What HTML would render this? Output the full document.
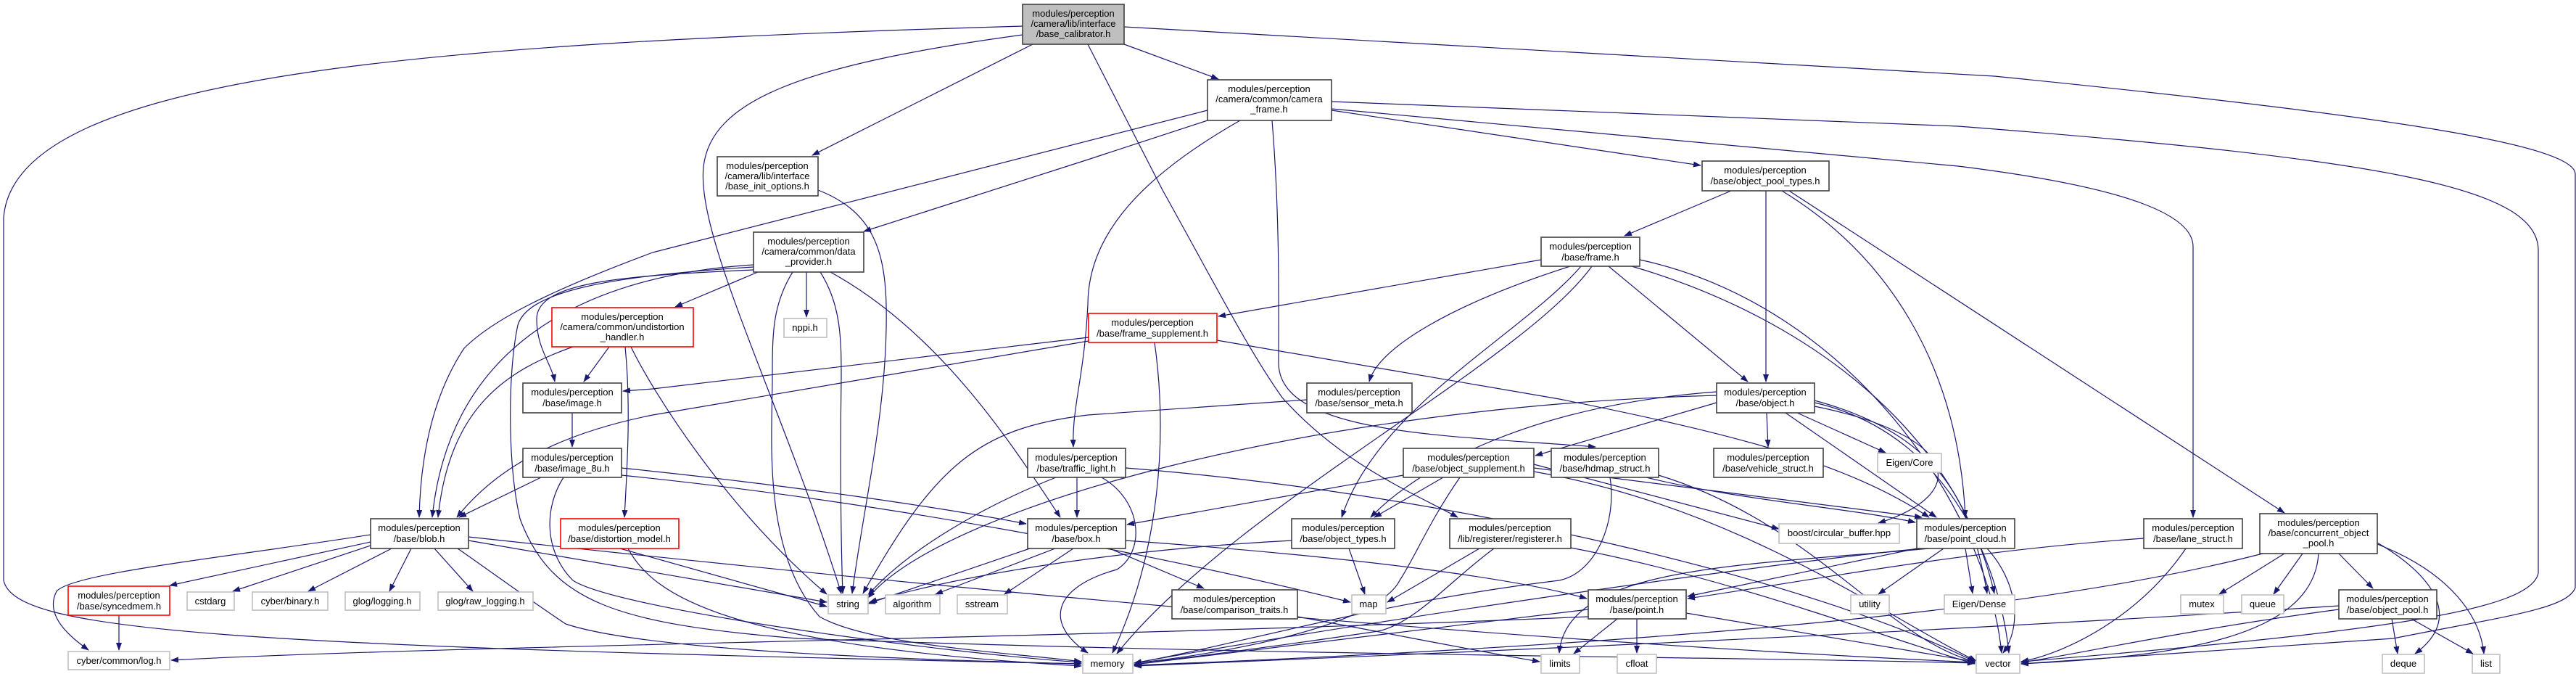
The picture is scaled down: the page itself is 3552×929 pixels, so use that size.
<!DOCTYPE html>
<html><head><meta charset="utf-8"><style>
html,body{margin:0;padding:0;background:#fff}
svg{display:block}
text{font-family:"Liberation Sans",sans-serif;font-size:13px;fill:#000}
.n{fill:#fff;stroke:#404040;stroke-width:1.6}
.g{fill:#fff;stroke:#bfbfbf;stroke-width:1.6}
.r{fill:#fff;stroke:#ff0000;stroke-width:1.6}
.root{fill:#bfbfbf;stroke:#404040;stroke-width:1.6}
.e path{fill:none;stroke:#191970;stroke-width:1.2}
</style></head><body>
<svg width="3552" height="929" viewBox="0 0 3552 929" xmlns="http://www.w3.org/2000/svg">
<defs><marker id="a" markerWidth="11" markerHeight="8" refX="10" refY="4" orient="auto" markerUnits="userSpaceOnUse"><path d="M0,0 L11,4 L0,8z" fill="#191970"/></marker></defs>
<g class="e" marker-end="url(#a)">
<path marker-end="url(#a)" d="M1410,36 C600,60 20,100 5,300 L5,800 C20,870 300,890 1491,915"/>
<path marker-end="url(#a)" d="M1410,48 C1100,90 980,140 970,230 C960,330 1080,560 1160,818"/>
<path marker-end="url(#a)" d="M1424,61 L1120,214"/>
<path marker-end="url(#a)" d="M1550,61 L1680,109"/>
<path marker-end="url(#a)" d="M1500,61 L1603,262 C1680,400 1720,480 1768,548 C1850,640 1950,680 2010,713"/>
<path marker-end="url(#a)" d="M1550,37 L2750,105 C3300,160 3551,200 3551,240 L3551,810 C3540,840 3450,850 3300,880 C3000,900 2850,910 2787,915"/>
<path marker-end="url(#a)" d="M1836,152 L2345,228"/>
<path marker-end="url(#a)" d="M1836,150 L2700,229 C2950,260 3024,300 3024,340 L3024,713"/>
<path marker-end="url(#a)" d="M1836,140 L2700,174 C3300,220 3500,260 3500,345 L3500,790 C3490,840 3300,870 2787,912"/>
<path marker-end="url(#a)" d="M1665,152 L900,348 C760,400 680,440 640,480 C600,540 580,620 578,713"/>
<path marker-end="url(#a)" d="M1665,166 L1500,220 L1191,319"/>
<path marker-end="url(#a)" d="M1710,166 C1580,240 1500,320 1500,420 C1495,520 1478,560 1480,616"/>
<path marker-end="url(#a)" d="M1754,166 C1765,300 1763,420 1763,500 C1763,600 2000,600 2200,616"/>
<path marker-end="url(#a)" d="M1128,262 C1200,290 1220,340 1222,420 C1225,560 1190,700 1175,818"/>
<path marker-end="url(#a)" d="M1045,375 L931,423"/>
<path marker-end="url(#a)" d="M1112,375 L1112,437"/>
<path marker-end="url(#a)" d="M1131,375 C1160,420 1160,470 1160,520 C1158,650 1160,760 1162,818"/>
<path marker-end="url(#a)" d="M1145,375 C1300,460 1400,620 1462,713"/>
<path marker-end="url(#a)" d="M1093,375 C1065,420 1065,460 1065,520 C1065,600 1050,760 1130,850 C1200,890 1400,900 1491,912"/>
<path marker-end="url(#a)" d="M1039,368 C850,380 720,400 713,453 C700,520 700,640 717,715 C760,830 850,860 1100,880 C1800,905 2400,905 2723,914"/>
<path marker-end="url(#a)" d="M1039,372 C850,380 740,390 740,440 C740,480 760,500 765,526"/>
<path marker-end="url(#a)" d="M1039,365 C800,380 620,480 596,713"/>
<path marker-end="url(#a)" d="M840,478 L805,526"/>
<path marker-end="url(#a)" d="M790,478 C700,510 620,560 604,713"/>
<path marker-end="url(#a)" d="M862,478 C870,560 865,640 861,713"/>
<path marker-end="url(#a)" d="M870,478 C900,540 1000,700 1140,819"/>
<path marker-end="url(#a)" d="M789,569 L789,616"/>
<path marker-end="url(#a)" d="M1501,465 L900,536 L859,539"/>
<path marker-end="url(#a)" d="M1501,470 L900,572 C760,600 680,650 630,713"/>
<path marker-end="url(#a)" d="M1592,472 C1610,600 1600,760 1534,900"/>
<path marker-end="url(#a)" d="M1678,469 L2150,550 C2400,600 2550,640 2660,713"/>
<path marker-end="url(#a)" d="M746,658 L633,713"/>
<path marker-end="url(#a)" d="M857,645 C1100,670 1300,700 1415,722"/>
<path marker-end="url(#a)" d="M857,655 C1300,700 1700,790 1862,830"/>
<path marker-end="url(#a)" d="M777,658 C750,700 750,760 790,800 C850,840 1300,900 1491,913"/>
<path marker-end="url(#a)" d="M511,747 L234,807"/>
<path marker-end="url(#a)" d="M511,752 L321,815"/>
<path marker-end="url(#a)" d="M540,756 L425,815"/>
<path marker-end="url(#a)" d="M567,756 L537,815"/>
<path marker-end="url(#a)" d="M599,756 L652,815"/>
<path marker-end="url(#a)" d="M511,737 C300,770 100,790 78,815 C60,850 100,880 122,896"/>
<path marker-end="url(#a)" d="M646,745 L1140,830"/>
<path marker-end="url(#a)" d="M646,740 C1200,800 2000,880 2723,913"/>
<path marker-end="url(#a)" d="M631,756 C680,790 720,820 780,860 C900,900 1300,910 1491,915"/>
<path marker-end="url(#a)" d="M164,848 L164,896"/>
<path marker-end="url(#a)" d="M855,756 L1140,836"/>
<path marker-end="url(#a)" d="M866,756 C900,820 1000,890 1491,918"/>
<path marker-end="url(#a)" d="M1485,658 L1485,713"/>
<path marker-end="url(#a)" d="M1456,658 C1350,700 1250,760 1197,820"/>
<path marker-end="url(#a)" d="M1519,658 C1575,690 1580,760 1540,785 C1450,810 1440,860 1500,900"/>
<path marker-end="url(#a)" d="M1552,645 C2000,680 2500,800 2723,912"/>
<path marker-end="url(#a)" d="M1420,756 L1197,832"/>
<path marker-end="url(#a)" d="M1455,756 L1290,819"/>
<path marker-end="url(#a)" d="M1480,756 L1385,819"/>
<path marker-end="url(#a)" d="M1530,756 L1660,811"/>
<path marker-end="url(#a)" d="M1552,745 C1900,770 2100,800 2188,825"/>
<path marker-end="url(#a)" d="M1802,551 L1500,572 C1350,590 1290,640 1190,818"/>
<path marker-end="url(#a)" d="M1935,655 L1554,723"/>
<path marker-end="url(#a)" d="M1990,658 L1895,713"/>
<path marker-end="url(#a)" d="M2013,658 C1970,720 1950,770 1930,800 C1900,860 1700,900 1564,914"/>
<path marker-end="url(#a)" d="M2115,650 C2400,700 2600,850 2725,911"/>
<path marker-end="url(#a)" d="M2115,645 L2650,713"/>
<path marker-end="url(#a)" d="M2115,640 L2453,729"/>
<path marker-end="url(#a)" d="M1860,756 L1882,819"/>
<path marker-end="url(#a)" d="M1781,745 C1500,760 1300,800 1199,830"/>
<path marker-end="url(#a)" d="M2040,756 L1913,830"/>
<path marker-end="url(#a)" d="M2060,756 C2000,800 1950,860 1900,870 C1700,900 1600,910 1564,916"/>
<path marker-end="url(#a)" d="M2166,755 C2400,800 2600,880 2723,915"/>
<path marker-end="url(#a)" d="M1789,850 C1900,870 2050,900 2123,912"/>
<path marker-end="url(#a)" d="M2387,263 L2240,325"/>
<path marker-end="url(#a)" d="M2435,263 L2435,526"/>
<path marker-end="url(#a)" d="M2457,263 C2600,350 2700,500 2710,713"/>
<path marker-end="url(#a)" d="M2467,263 L3150,707"/>
<path marker-end="url(#a)" d="M2125,358 L1680,436"/>
<path marker-end="url(#a)" d="M2165,367 C2000,420 1900,480 1888,526"/>
<path marker-end="url(#a)" d="M2180,367 C2100,460 1900,560 1850,713"/>
<path marker-end="url(#a)" d="M2195,367 C2100,500 1700,700 1540,901"/>
<path marker-end="url(#a)" d="M2218,367 L2410,526"/>
<path marker-end="url(#a)" d="M2261,358 C2550,420 2740,700 2760,900"/>
<path marker-end="url(#a)" d="M2250,367 C2500,440 2700,600 2750,818"/>
<path marker-end="url(#a)" d="M2367,555 L2117,628"/>
<path marker-end="url(#a)" d="M2436,569 L2438,616"/>
<path marker-end="url(#a)" d="M2478,569 L2600,624"/>
<path marker-end="url(#a)" d="M2462,569 L2670,713"/>
<path marker-end="url(#a)" d="M2502,560 C2700,600 2720,680 2590,721"/>
<path marker-end="url(#a)" d="M2367,540 C2100,560 1950,650 1890,713"/>
<path marker-end="url(#a)" d="M2367,545 C1800,560 1300,700 1197,824"/>
<path marker-end="url(#a)" d="M2502,555 C2700,600 2760,800 2770,900"/>
<path marker-end="url(#a)" d="M2502,552 C2680,600 2720,700 2740,818"/>
<path marker-end="url(#a)" d="M2270,658 C2400,690 2550,700 2641,720"/>
<path marker-end="url(#a)" d="M2220,658 C2230,720 2200,790 2150,800 C1900,830 1700,890 1564,914"/>
<path marker-end="url(#a)" d="M2287,655 C2500,720 2600,880 2723,912"/>
<path marker-end="url(#a)" d="M2643,756 L2327,822"/>
<path marker-end="url(#a)" d="M2680,756 L2590,819"/>
<path marker-end="url(#a)" d="M2710,756 L2720,818"/>
<path marker-end="url(#a)" d="M2740,756 C2780,800 2790,860 2762,900"/>
<path marker-end="url(#a)" d="M2650,756 C2400,780 1800,870 1564,914"/>
<path marker-end="url(#a)" d="M2660,756 C2400,780 2160,780 2150,900"/>
<path marker-end="url(#a)" d="M2230,853 L2170,901"/>
<path marker-end="url(#a)" d="M2257,853 L2257,900"/>
<path marker-end="url(#a)" d="M2325,845 L2723,912"/>
<path marker-end="url(#a)" d="M2190,840 L1564,916"/>
<path marker-end="url(#a)" d="M2190,850 C1500,880 600,890 236,910"/>
<path marker-end="url(#a)" d="M2956,742 C2700,760 2500,800 2327,825"/>
<path marker-end="url(#a)" d="M3014,756 C2950,850 2850,900 2787,912"/>
<path marker-end="url(#a)" d="M3150,763 L3060,819"/>
<path marker-end="url(#a)" d="M3175,763 L3135,819"/>
<path marker-end="url(#a)" d="M3225,763 L3272,811"/>
<path marker-end="url(#a)" d="M3278,748 C3350,790 3400,850 3330,901"/>
<path marker-end="url(#a)" d="M3278,750 C3380,790 3420,850 3425,901"/>
<path marker-end="url(#a)" d="M3197,763 C3190,880 3000,905 2787,915"/>
<path marker-end="url(#a)" d="M3120,763 C2900,820 2500,880 1564,917"/>
<path marker-end="url(#a)" d="M3298,853 L3306,901"/>
<path marker-end="url(#a)" d="M3325,853 L3410,901"/>
<path marker-end="url(#a)" d="M3225,840 C3000,870 2850,905 2787,913"/>
<path marker-end="url(#a)" d="M3225,835 C2700,870 2000,900 1564,918"/>
</g>
<g text-anchor="middle">
<rect class="root" x="1410" y="6" width="140" height="55"/><text x="1480" y="23">modules/perception</text><text x="1480" y="37">/camera/lib/interface</text><text x="1480" y="51">/base_calibrator.h</text>
<rect class="n" x="1665" y="110" width="171" height="56"/><text x="1750" y="127">modules/perception</text><text x="1750" y="141">/camera/common/camera</text><text x="1750" y="155">_frame.h</text>
<rect class="n" x="989" y="216" width="139" height="54"/><text x="1058" y="233">modules/perception</text><text x="1058" y="247">/camera/lib/interface</text><text x="1058" y="261">/base_init_options.h</text>
<rect class="n" x="1039" y="320" width="152" height="55"/><text x="1115" y="337">modules/perception</text><text x="1115" y="351">/camera/common/data</text><text x="1115" y="365">_provider.h</text>
<rect class="r" x="761" y="424" width="195" height="54"/><text x="858" y="441">modules/perception</text><text x="858" y="455">/camera/common/undistortion</text><text x="858" y="469">_handler.h</text>
<rect class="n" x="721" y="528" width="136" height="41"/><text x="789" y="545">modules/perception</text><text x="789" y="560">/base/image.h</text>
<rect class="n" x="721" y="618" width="136" height="40"/><text x="789" y="635">modules/perception</text><text x="789" y="650">/base/image_8u.h</text>
<rect class="n" x="511" y="715" width="135" height="41"/><text x="578" y="732">modules/perception</text><text x="578" y="747">/base/blob.h</text>
<rect class="r" x="773" y="715" width="163" height="41"/><text x="854" y="732">modules/perception</text><text x="854" y="747">/base/distortion_model.h</text>
<rect class="r" x="94" y="808" width="140" height="40"/><text x="164" y="825">modules/perception</text><text x="164" y="840">/base/syncedmem.h</text>
<rect class="g" x="258" y="816" width="65" height="25"/><text x="290" y="833">cstdarg</text>
<rect class="g" x="348" y="816" width="104" height="25"/><text x="400" y="833">cyber/binary.h</text>
<rect class="g" x="476" y="816" width="103" height="25"/><text x="527" y="833">glog/logging.h</text>
<rect class="g" x="604" y="816" width="131" height="25"/><text x="669" y="833">glog/raw_logging.h</text>
<rect class="g" x="94" y="898" width="140" height="25"/><text x="164" y="915">cyber/common/log.h</text>
<rect class="g" x="1081" y="439" width="59" height="26"/><text x="1110" y="456">nppi.h</text>
<rect class="g" x="1142" y="820" width="55" height="26"/><text x="1169" y="837">string</text>
<rect class="g" x="1221" y="820" width="75" height="26"/><text x="1258" y="837">algorithm</text>
<rect class="g" x="1320" y="820" width="69" height="26"/><text x="1354" y="837">sstream</text>
<rect class="n" x="1417" y="618" width="135" height="40"/><text x="1484" y="635">modules/perception</text><text x="1484" y="650">/base/traffic_light.h</text>
<rect class="n" x="1417" y="715" width="135" height="41"/><text x="1484" y="732">modules/perception</text><text x="1484" y="747">/base/box.h</text>
<rect class="r" x="1501" y="432" width="177" height="40"/><text x="1589" y="449">modules/perception</text><text x="1589" y="464">/base/frame_supplement.h</text>
<rect class="n" x="1802" y="528" width="145" height="41"/><text x="1874" y="545">modules/perception</text><text x="1874" y="560">/base/sensor_meta.h</text>
<rect class="n" x="1935" y="618" width="180" height="40"/><text x="2025" y="635">modules/perception</text><text x="2025" y="650">/base/object_supplement.h</text>
<rect class="n" x="1781" y="715" width="142" height="41"/><text x="1852" y="732">modules/perception</text><text x="1852" y="747">/base/object_types.h</text>
<rect class="n" x="1999" y="715" width="167" height="41"/><text x="2082" y="732">modules/perception</text><text x="2082" y="747">/lib/registerer/registerer.h</text>
<rect class="n" x="1616" y="813" width="173" height="40"/><text x="1702" y="830">modules/perception</text><text x="1702" y="845">/base/comparison_traits.h</text>
<rect class="g" x="1864" y="820" width="47" height="26"/><text x="1887" y="837">map</text>
<rect class="g" x="1493" y="902" width="69" height="26"/><text x="1527" y="919">memory</text>
<rect class="n" x="2347" y="222" width="175" height="41"/><text x="2434" y="239">modules/perception</text><text x="2434" y="254">/base/object_pool_types.h</text>
<rect class="n" x="2125" y="327" width="136" height="40"/><text x="2193" y="344">modules/perception</text><text x="2193" y="359">/base/frame.h</text>
<rect class="n" x="2367" y="528" width="135" height="41"/><text x="2434" y="545">modules/perception</text><text x="2434" y="560">/base/object.h</text>
<rect class="n" x="2139" y="618" width="148" height="40"/><text x="2213" y="635">modules/perception</text><text x="2213" y="650">/base/hdmap_struct.h</text>
<rect class="n" x="2363" y="618" width="151" height="40"/><text x="2438" y="635">modules/perception</text><text x="2438" y="650">/base/vehicle_struct.h</text>
<rect class="g" x="2589" y="625" width="88" height="26"/><text x="2633" y="642">Eigen/Core</text>
<rect class="g" x="2453" y="722" width="166" height="27"/><text x="2536" y="739">boost/circular_buffer.hpp</text>
<rect class="n" x="2643" y="715" width="135" height="41"/><text x="2710" y="732">modules/perception</text><text x="2710" y="747">/base/point_cloud.h</text>
<rect class="g" x="2552" y="820" width="53" height="26"/><text x="2578" y="837">utility</text>
<rect class="g" x="2681" y="820" width="97" height="26"/><text x="2729" y="837">Eigen/Dense</text>
<rect class="n" x="2190" y="813" width="135" height="40"/><text x="2257" y="830">modules/perception</text><text x="2257" y="845">/base/point.h</text>
<rect class="g" x="2125" y="902" width="53" height="26"/><text x="2151" y="919">limits</text>
<rect class="g" x="2230" y="902" width="54" height="26"/><text x="2257" y="919">cfloat</text>
<rect class="g" x="2725" y="902" width="60" height="26"/><text x="2755" y="919">vector</text>
<rect class="n" x="2956" y="715" width="136" height="41"/><text x="3024" y="732">modules/perception</text><text x="3024" y="747">/base/lane_struct.h</text>
<rect class="n" x="3116" y="708" width="162" height="55"/><text x="3197" y="725">modules/perception</text><text x="3197" y="739">/base/concurrent_object</text><text x="3197" y="753">_pool.h</text>
<rect class="g" x="3007" y="820" width="59" height="26"/><text x="3036" y="837">mutex</text>
<rect class="g" x="3091" y="820" width="58" height="26"/><text x="3120" y="837">queue</text>
<rect class="n" x="3225" y="813" width="135" height="40"/><text x="3292" y="830">modules/perception</text><text x="3292" y="845">/base/object_pool.h</text>
<rect class="g" x="3285" y="902" width="58" height="26"/><text x="3314" y="919">deque</text>
<rect class="g" x="3409" y="902" width="38" height="26"/><text x="3428" y="919">list</text>
</g>
</svg>
</body></html>
